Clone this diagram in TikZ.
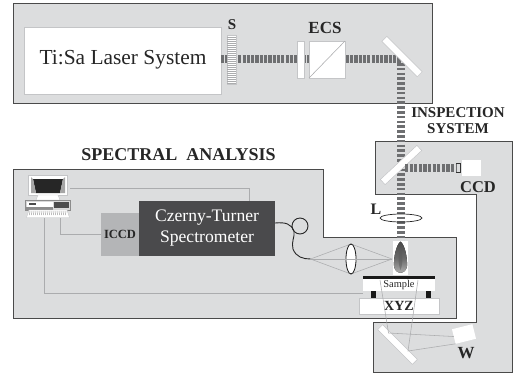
\documentclass[tikz,border=0pt]{standalone}
\usepackage{fontspec}
\usetikzlibrary{shapes.geometric}
\setmainfont{Liberation Serif}
\definecolor{panelc}{HTML}{DCDDDE}
\definecolor{edgec}{HTML}{4A4A4A}
\definecolor{beamc}{HTML}{6E6F71}
\definecolor{rayc}{HTML}{ABACAE}
\definecolor{boxedge}{HTML}{C4C5C7}
\definecolor{specc}{HTML}{4A4A4C}
\definecolor{iccdc}{HTML}{B4B5B7}
\tikzset{
  panel/.style={fill=panelc,draw=edgec,line width=.8pt},
  wbox/.style={draw=boxedge,fill=white,line width=.5pt,inner sep=0pt,outer sep=0pt},
  mirrorbox/.style={wbox,minimum width=50pt,minimum height=7pt},
  beamh/.style={draw=beamc,line width=8pt,dash pattern=on 3.2pt off 1.1pt},
  beamv/.style={draw=beamc,line width=8pt,dash pattern=on 2.6pt off 2.2pt},
  ray/.style={draw=rayc,line width=.55pt},
  wire/.style={draw=rayc,line width=.7pt},
  fibre/.style={draw=black!85,line width=.9pt},
  lab/.style={inner sep=0pt,font=\bfseries\fontsize{15}{15}\selectfont,text=black!85}
}
\begin{document}
\begin{tikzpicture}[x=1pt,y=-1pt]
\useasboundingbox (0,0) rectangle (514,373);
\fill[white] (0,0) rectangle (514,373);
% panels
\draw[panel] (13,3.5) rectangle (432,103);
\draw[panel] (375,141) -- (512,141) -- (512,372) -- (373,372) -- (373,322) -- (476,322) -- (476,194) -- (375,194) -- cycle;
\draw[panel] (13,169) -- (323,169) -- (323,237.5) -- (456,237.5) -- (456,318) -- (13,318) -- cycle;
% top row
\node[wbox,minimum width=197pt,minimum height=67pt] (laser) at (122.5,60.5) {};
\node[font=\fontsize{21.4}{22}\selectfont,text=black!85,inner sep=0pt] at (123,60) {Ti:Sa Laser System};
\coordinate (turn) at (401,59);
\coordinate (plumetop) at (401,241);
\draw[beamh] (laser.east |- turn) -- (turn);
\draw[beamv] (turn) ++(0,4) -- (plumetop);
\node[wbox,minimum width=9pt,minimum height=49pt] (shutter) at (231.5,59.5) {};
\foreach \yy in {37,39,...,83} \draw[draw=rayc,line width=.35pt] (227,\yy) -- (236,\yy);
\node[lab,font=\bfseries\fontsize{15}{15}\selectfont] (slabel) at (232,25) {S};
\node[lab,font=\bfseries\fontsize{17}{17}\selectfont] (ecs) at (325,28) {ECS};
\node[wbox,minimum width=7pt,minimum height=37pt] (window) at (300.5,59.5) {};
\node[wbox,minimum width=36pt,minimum height=37pt] (cube) at (327,59.5) {};
\draw[ray] (cube.south west) -- (cube.north east);
\node[mirrorbox,rotate=-45] (m1) at (402,56.5) {};
% inspection
\node[lab] (insp) at (458,113) {INSPECTION};
\node[lab] (sys) at (458,129) {SYSTEM};
\node[mirrorbox,rotate=43] (m2) at (401,165) {};
\node[wbox,minimum width=19pt,minimum height=16pt,draw=none] (ccd) at (471.5,168) {};
\node[draw=black!80,fill=panelc,line width=.8pt,minimum width=4pt,minimum height=9pt,inner sep=0pt] (aper) at (458.5,168) {};
\draw[draw=beamc,line width=7.5pt,dash pattern=on 3.2pt off 1.4pt] (405,168) -- (aper.west);
\node[lab,font=\bfseries\fontsize{16.5}{16}\selectfont] (ccdl) at (478,187) {CCD};
\node[inner sep=0pt,font=\bfseries\fontsize{16}{16}\selectfont,text=black!85] (ll) at (376,209) {L};
\node[draw=black!85,line width=.7pt,ellipse,minimum width=42pt,minimum height=8pt,inner sep=0pt] (lensL) at (401,218) {};
% spectral
\node[lab,font=\bfseries\fontsize{18}{18}\selectfont] (spec) at (178.5,155) {SPECTRAL\ \ ANALYSIS};
\coordinate (pcA) at (70,188);
\coordinate (pcB) at (60,218);
\coordinate (pcC) at (44,218);
\node[inner sep=0pt,outer sep=0pt,minimum width=38pt,minimum height=43pt,fill=iccdc] (iccd) at (120,234.5) {};
\node[inner sep=0pt,font=\bfseries\fontsize{12.5}{13}\selectfont,text=black!85] at (120,234.5) {ICCD};
\node[inner sep=0pt,outer sep=0pt,minimum width=136pt,minimum height=55pt,fill=specc,
      text=white,align=center,font=\fontsize{17.6}{21}\selectfont] (czerny) at (207,228.5) {Czerny-Turner\\Spectrometer};
\draw[wire] (pcA) -- (249,188) -- (czerny.north -| 249,188);
\draw[wire] (pcB) |- (iccd.west);
% sample stage
\node[wbox,minimum width=80pt,minimum height=16pt] (xyz) at (399,306) {};
\node[wbox,draw=none,minimum width=72pt,minimum height=12pt] (sample) at (399,285) {};
\fill[black!90] (363,275.5) rectangle (435,279);
\fill[black!90] (371,291) rectangle (375.5,298);
\fill[black!90] (426,291) rectangle (430.5,298);
\draw[wire] (pcC) |- (363,293);
\node[inner sep=0pt,font=\fontsize{10.4}{10}\selectfont,text=black!85] at (399,285) {Sample};
\node[lab,font=\bfseries\fontsize{14}{14}\selectfont] (xyzl) at (399,306) {XYZ};
% plume
\node[wbox,draw=none,minimum width=15pt,minimum height=34pt] (plumebox) at (400.5,258) {};
\fill[top color=black!72,bottom color=black!28,middle color=black!58]
  (400.5,241.5) .. controls (396,245) and (393.5,258) .. (394,266) .. controls (395,275) and (406,275) .. (407,266) .. controls (407.5,258) and (405,245) .. (400.5,241.5) -- cycle;
\fill[black!65,opacity=.5] (400.5,248) .. controls (398,254) and (398,264) .. (400.5,270) .. controls (403,264) and (403,254) .. (400.5,248) -- cycle;
% collection optics
\coordinate (focus) at (310.5,259);
\coordinate (source) at (392,259);
\coordinate (lenstop) at (351,244);
\coordinate (lensbot) at (351,274);
\draw[ray] (focus) -- (lenstop) -- (source) -- (lensbot) -- cycle;
\node[draw=black!90,fill=white,line width=.8pt,ellipse,inner sep=0pt,minimum width=10pt,minimum height=30pt] (lens) at (351,259) {};
\draw[ray] (focus) -- (source);
% fibre
\draw[fibre] (czerny.east |- 0,223) .. controls (286,222) and (291,224) .. (294,231) .. controls (295,237) and (291,242) .. (293,249) .. controls (296,257) and (303,259) .. (focus);
\draw[fibre] (300,226) circle (8);
% bottom branch
\node[mirrorbox,rotate=-45,minimum width=49pt] (m3) at (397.5,344.5) {};
\node[wbox,draw=none,minimum width=21pt,minimum height=15pt,rotate=14] (wbox) at (464,334) {};
\coordinate (r1t) at (380,280);
\coordinate (r2t) at (418,280);
\coordinate (r1b) at (388.5,333);
\coordinate (r2b) at (408,351);
\draw[ray] (r1t) -- (r1b) -- (wbox.west);
\draw[ray] (r2t) -- (r2b) -- (wbox.south west);
\node[lab,font=\bfseries\fontsize{17}{17}\selectfont] (wl) at (466,353) {W};
% computer
\fill[white,draw=boxedge,line width=.5pt] (28.5,175) rectangle (67,195);
\fill[black!85] (33,179) -- (63,179) -- (60,193) -- (36,193) -- cycle;
\fill[black!35] (31,177) -- (33,179) -- (36,193) -- (31,193) -- cycle;
\fill[black!35] (65,177) -- (63,179) -- (60,193) -- (65,193) -- cycle;
\fill[white,draw=boxedge,line width=.4pt] (38,195) -- (58,195) -- (60,200) -- (36,200) -- cycle;
\fill[black!15,draw=black!45,line width=.4pt] (25.5,200.5) rectangle (70,210);
\fill[white] (27,202) rectangle (53,208);
\fill[black!70] (29,203) rectangle (36,204.5);
\fill[black!70] (54,202) rectangle (69,208);
\fill[black!45] (25.5,207) rectangle (53,210);
\fill[white,draw=boxedge,line width=.4pt] (29,210) -- (67,210) -- (69.5,217.5) -- (26.5,217.5) -- cycle;
\foreach \xx in {30,32,...,66} \draw[black!45,line width=.4pt] (\xx,211) -- (\xx-.5,215);
\end{tikzpicture}
\end{document}
